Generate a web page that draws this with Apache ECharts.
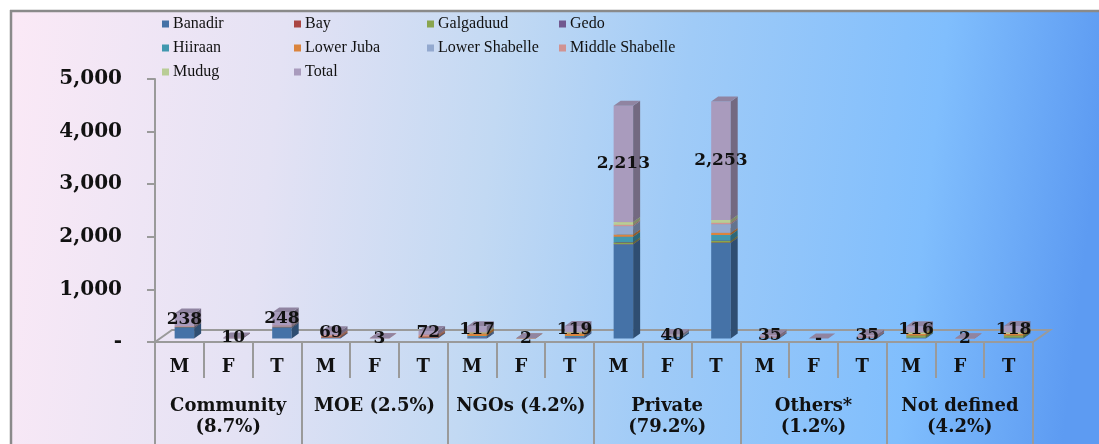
<!DOCTYPE html>
<html>
<head>
<meta charset="utf-8">
<script src="https://cdn.jsdelivr.net/npm/echarts@6/dist/echarts.min.js"></script>
<style>
  html, body { margin: 0; padding: 0; background: #ffffff; }
  #chart { width: 1099px; height: 444px; }
</style>
</head>
<body>
<div id="chart"></div>
<script>
// ---- data ----
const categories = ['M', 'F', 'T', 'M', 'F', 'T', 'M', 'F', 'T', 'M', 'F', 'T', 'M', 'F', 'T', 'M', 'F', 'T'];
const groups = ['Community\n(8.7%)', 'MOE (2.5%)', 'NGOs (4.2%)', 'Private\n(79.2%)', 'Others*\n(1.2%)', 'Not defined\n(4.2%)'];
const yTickLabels = ['-', '1,000', '2,000', '3,000', '4,000', '5,000'];

const regions = ['Banadir', 'Bay', 'Galgaduud', 'Gedo', 'Hiiraan', 'Lower Juba', 'Lower Shabelle', 'Middle Shabelle', 'Mudug', 'Total'];
const colors = ['#4572A7', '#AA4643', '#89A54E', '#71588F', '#4198AF', '#DB843D', '#93A9CF', '#D19392', '#B9CD96', '#A99BBD'];

const banadir        = [200, 4, 204, 10, 0, 10, 20, 0, 20, 1790, 30, 1820, 15, 0, 15, 16, 0, 16];
const bay            = [8, 0, 8, 0, 0, 0, 0, 0, 0, 5, 0, 5, 0, 0, 0, 0, 0, 0];
const galgaduud      = [0, 0, 0, 0, 0, 0, 0, 0, 0, 30, 0, 30, 0, 0, 0, 40, 0, 40];
const gedo           = [0, 0, 0, 9, 0, 9, 12, 0, 12, 5, 0, 5, 0, 0, 0, 0, 0, 0];
const hiiraan        = [10, 0, 10, 0, 0, 0, 15, 0, 15, 105, 3, 108, 0, 0, 0, 0, 0, 0];
const lowerJuba      = [0, 0, 0, 20, 0, 20, 50, 2, 52, 40, 0, 40, 0, 0, 0, 30, 0, 30];
const lowerShabelle  = [5, 0, 5, 0, 0, 0, 0, 0, 0, 160, 5, 165, 0, 0, 0, 0, 0, 0];
const middleShabelle = [15, 6, 21, 30, 3, 33, 0, 0, 0, 25, 0, 25, 20, 0, 20, 0, 2, 2];
const mudug          = [0, 0, 0, 0, 0, 0, 20, 0, 20, 53, 2, 55, 0, 0, 0, 30, 0, 30];
const total          = [238, 10, 248, 69, 3, 72, 117, 2, 119, 2213, 40, 2253, 35, 0, 35, 116, 2, 118];

const seriesValues = [banadir, bay, galgaduud, gedo, hiiraan, lowerJuba, lowerShabelle, middleShabelle, mudug, total];

// ---- layout ----
const GRID = { left: 155, right: 66, top: 79, bottom: 102 };
const W = 1099, H = 444;
const FLOOR_DX = 17, FLOOR_DY = 12;     // depth of the floor
const BAR_DX = 7, BAR_DY = 5;           // depth of each column
const SHIFT_X = (FLOOR_DX - BAR_DX) / 2, SHIFT_Y = (FLOOR_DY - BAR_DY) / 2;
const LINE = '#9a9a9a';
const SERIF = '"DejaVu Serif", serif';

// running base of each stacked segment
const bases = seriesValues.map((vals, si) =>
  vals.map((_, i) => { let s = 0; for (let k = 0; k < si; k++) s += seriesValues[k][i]; return s; })
);

function shade(hex, f) {
  const n = parseInt(hex.slice(1), 16);
  const r = Math.round(((n >> 16) & 255) * f), g = Math.round(((n >> 8) & 255) * f), b = Math.round((n & 255) * f);
  return 'rgb(' + r + ',' + g + ',' + b + ')';
}

function fmt(v) {
  return v === 0 ? '-' : v.toLocaleString('en-US');
}

function makeRender(si) {
  const isTotal = si === seriesValues.length - 1;
  const col = colors[si];
  return function (params, api) {
    const i = api.value(0), v = api.value(1);
    if (v === 0 && !isTotal) return null;
    const base = bases[si][i];
    const pb = api.coord([i, base]);
    const pt = api.coord([i, base + v]);
    const cw = api.size([1, 0])[0];
    const bw = cw * 0.4;
    const x0 = pb[0] - bw / 2 + SHIFT_X, x1 = x0 + bw;
    const yb = pb[1] - SHIFT_Y, yt = pt[1] - SHIFT_Y;
    const children = [];
    if (yb - yt > 0) {
      children.push({ type: 'rect', shape: { x: x0, y: yt, width: bw, height: yb - yt }, style: { fill: col } });
      children.push({ type: 'polygon', shape: { points: [[x1, yb], [x1 + BAR_DX, yb - BAR_DY], [x1 + BAR_DX, yt - BAR_DY], [x1, yt]] }, style: { fill: shade(col, 0.68) } });
    }
    children.push({ type: 'polygon', shape: { points: [[x0, yt], [x1, yt], [x1 + BAR_DX, yt - BAR_DY], [x0 + BAR_DX, yt - BAR_DY]] }, style: { fill: shade(col, 0.85) } });
    if (isTotal) {
      children.push({
        type: 'text', z2: 100,
        style: { text: fmt(v), x: (x0 + x1) / 2, y: (yt + yb) / 2, align: 'center', verticalAlign: 'middle', font: 'bold 17px ' + SERIF, fill: '#111' }
      });
    }
    return { type: 'group', children: children };
  };
}

const series = seriesValues.map((vals, si) => ({
  name: regions[si],
  type: 'custom',
  xAxisIndex: 0,
  yAxisIndex: 0,
  itemStyle: { color: colors[si] },
  renderItem: makeRender(si),
  encode: { x: 0, y: 1 },
  data: vals.map((v, i) => [i, v]),
  z: 3
}));

// legend laid out in four columns
const legendCols = [
  { left: 162, data: ['Banadir', 'Hiiraan', 'Mudug'] },
  { left: 294, data: ['Bay', 'Lower Juba', 'Total'] },
  { left: 427, data: ['Galgaduud', 'Lower Shabelle'] },
  { left: 559, data: ['Gedo', 'Middle Shabelle'] }
];
const legends = legendCols.map(c => ({
  orient: 'vertical', left: c.left, top: 16, padding: 0,
  itemWidth: 7, itemHeight: 7, itemGap: 8, icon: 'rect',
  data: c.data, selectedMode: false,
  textStyle: { fontFamily: '"Liberation Serif", serif', fontSize: 16, lineHeight: 16, color: '#111', padding: [0, 0, 0, -1] }
}));

const fx0 = GRID.left, fx1 = W - GRID.right, fy = H - GRID.bottom;

const option = {
  animation: false,
  backgroundColor: '#ffffff',
  graphic: [
    {
      type: 'rect', z: -10, silent: true,
      shape: { x: 11, y: 11, width: W - 11, height: H - 11 },
      style: {
        fill: {
          type: 'linear', x: 0, y: 0, x2: 1, y2: 0.3,
          colorStops: [
            { offset: 0, color: '#fbe9f6' },
            { offset: 0.25, color: '#e4e2f4' },
            { offset: 0.45, color: '#c2d9f3' },
            { offset: 0.62, color: '#a0cbf7' },
            { offset: 0.85, color: '#80befd' },
            { offset: 1, color: '#5d9bf2' }
          ]
        }
      }
    },
    { type: 'line', silent: true, shape: { x1: 10, y1: 11, x2: W, y2: 11 }, style: { stroke: '#8a8a8a', lineWidth: 2.5 } },
    { type: 'line', silent: true, shape: { x1: 11, y1: 10, x2: 11, y2: H }, style: { stroke: '#8a8a8a', lineWidth: 2.5 } },
    // floor outline
    { type: 'polyline', silent: true, z: 1,
      shape: { points: [[fx0, fy], [fx0 + FLOOR_DX, fy - FLOOR_DY], [fx1 + FLOOR_DX, fy - FLOOR_DY], [fx1, fy]] },
      style: { stroke: LINE, lineWidth: 2, fill: null } }
  ],
  legend: legends,
  grid: { left: GRID.left, right: GRID.right, top: GRID.top, bottom: GRID.bottom, containLabel: false },
  xAxis: [
    {
      type: 'category', data: categories, position: 'bottom', boundaryGap: true,
      axisLine: { show: true, lineStyle: { color: LINE, width: 2 } },
      axisTick: { show: true, interval: 0, length: 36, lineStyle: { color: LINE, width: 2 } },
      axisLabel: { interval: 0, margin: 15, fontFamily: SERIF, fontWeight: 'bold', fontSize: 18, lineHeight: 20, color: '#111' },
      splitLine: { show: false }
    },
    {
      type: 'category', data: groups, position: 'bottom', boundaryGap: true,
      axisLine: { show: false },
      axisTick: { show: true, interval: 0, length: 102, lineStyle: { color: LINE, width: 2 } },
      axisLabel: { interval: 0, margin: 54, fontFamily: SERIF, fontWeight: 'bold', fontSize: 18, lineHeight: 21, color: '#111' },
      splitLine: { show: false }
    }
  ],
  yAxis: {
    type: 'value', min: 0, max: 5000, interval: 1000,
    axisLine: { show: true, lineStyle: { color: LINE, width: 2 } },
    axisTick: { show: true, length: 8, lineStyle: { color: LINE, width: 2 } },
    axisLabel: {
      margin: 33, fontFamily: SERIF, fontWeight: 'bold', fontSize: 20, color: '#111',
      formatter: v => yTickLabels[Math.round(v / 1000)]
    },
    splitLine: { show: false }
  },
  series: series
};

const chart = echarts.init(document.getElementById('chart'), null, { renderer: 'canvas' });
chart.setOption(option);
</script>
</body>
</html>
